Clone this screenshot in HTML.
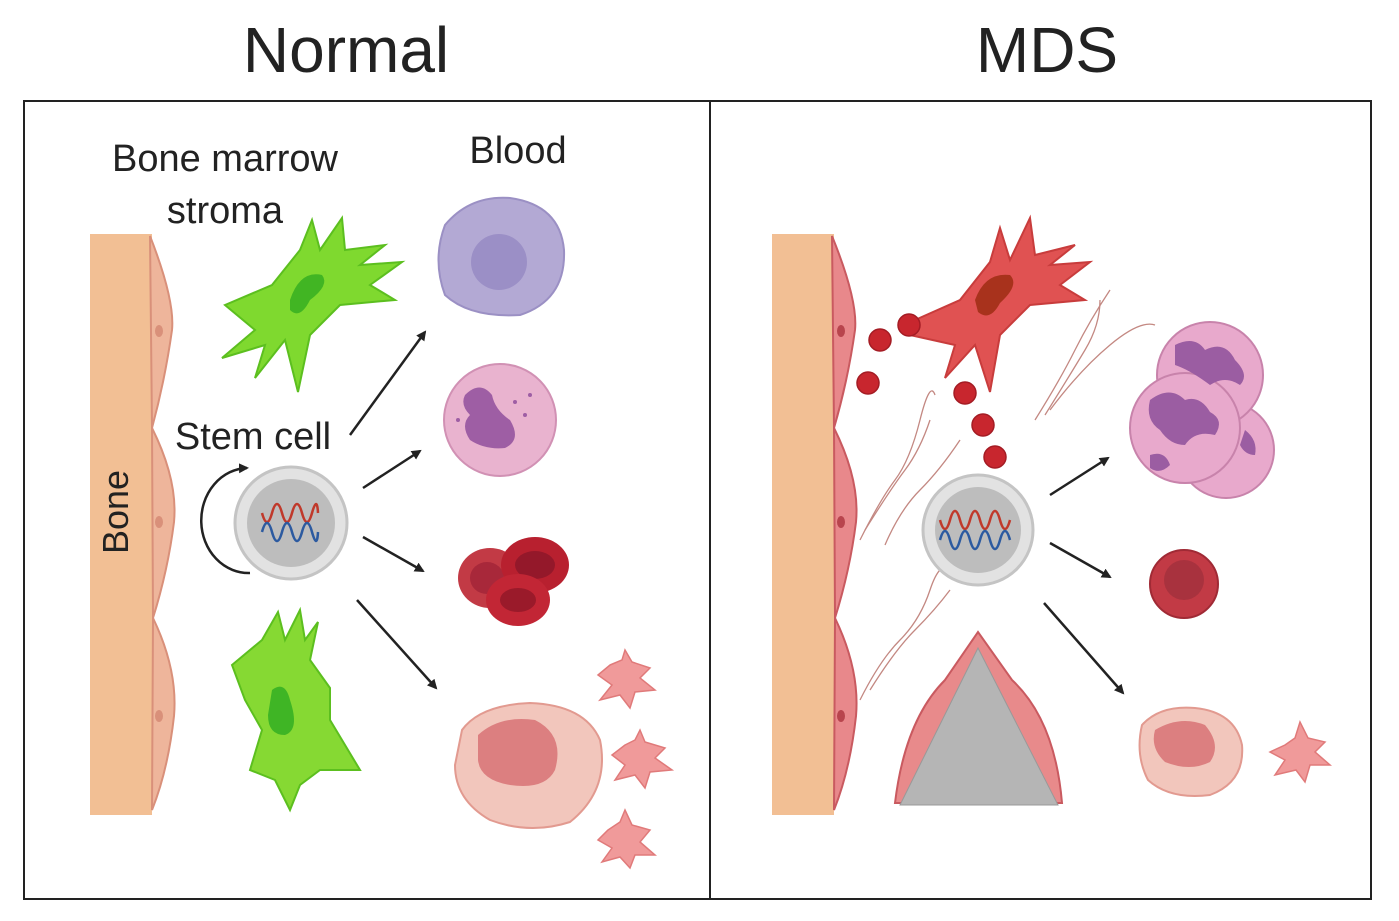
<!DOCTYPE html>
<html><head><meta charset="utf-8"><style>
html,body{margin:0;padding:0;background:#fff;}
svg{display:block;font-family:"Liberation Sans",sans-serif;}
</style></head><body>
<svg width="1399" height="921" viewBox="0 0 1399 921" xmlns="http://www.w3.org/2000/svg">
<defs>
<marker id="ah" markerWidth="10" markerHeight="10" refX="8" refY="5" orient="auto" markerUnits="userSpaceOnUse">
<path d="M0,0 L10,5 L0,10 z" fill="#222"/></marker>
</defs>
<rect width="1399" height="921" fill="#fff"/>
<text x="346" y="72" font-size="64" text-anchor="middle" fill="#222">Normal</text>
<text x="1047" y="72" font-size="64" text-anchor="middle" fill="#222">MDS</text>
<rect x="24" y="101" width="686" height="798" fill="none" stroke="#222" stroke-width="2"/>
<rect x="710" y="101" width="661" height="798" fill="none" stroke="#222" stroke-width="2"/>

<!-- LEFT -->
<rect x="90" y="234" width="62" height="581" fill="#f2bf94"/>
<g fill="#eeb59b" stroke="#d9907a" stroke-width="2">
<path d="M150,236 Q175,300 172,330 Q165,380 152,428 Z"/>
<path d="M152,428 Q178,480 174,522 Q168,570 153,618 Z"/>
<path d="M153,618 Q178,670 174,716 Q168,770 152,810 Z"/>
</g>
<g fill="#d9907a"><ellipse cx="159" cy="331" rx="4" ry="6"/><ellipse cx="159" cy="522" rx="4" ry="6"/><ellipse cx="159" cy="716" rx="4" ry="6"/></g>
<text x="128" y="512" font-size="36" text-anchor="middle" fill="#222" transform="rotate(-90 128 512)">Bone</text>
<text x="225" y="171" font-size="38" text-anchor="middle" fill="#222">Bone marrow</text>
<text x="225" y="223" font-size="38" text-anchor="middle" fill="#222">stroma</text>
<text x="518" y="163" font-size="38" text-anchor="middle" fill="#222">Blood</text>
<text x="253" y="449" font-size="38" text-anchor="middle" fill="#222">Stem cell</text>

<!-- green cells -->
<path d="M225,305 L272,285 L300,250 L312,220 L320,250 L342,218 L345,250 L385,245 L360,265 L402,262 L370,285 L395,300 L340,305 L310,335 L298,392 L285,340 L255,378 L265,345 L222,358 L255,330 Z" fill="#7fd92f" stroke="#5cbf1f" stroke-width="2"/>
<path d="M290,300 Q300,270 322,275 Q330,285 310,300 Q300,320 290,310 Z" fill="#41b523"/>
<path d="M232,665 L262,640 L278,612 L285,640 L300,610 L305,640 L318,622 L310,660 L330,688 L330,720 L360,770 L320,770 L300,785 L290,810 L275,780 L250,770 L262,730 L245,700 Z" fill="#86d933" stroke="#5cbf1f" stroke-width="2"/>
<path d="M272,690 Q285,680 290,700 Q300,730 285,735 Q268,735 268,715 Z" fill="#3fb525"/>

<!-- stem cell left -->
<circle cx="291" cy="523" r="56" fill="#e2e2e2" stroke="#c4c4c4" stroke-width="3"/>
<circle cx="291" cy="523" r="44" fill="#bdbdbd"/>
<path d="M262,513 q5,18 10,0 t10,0 t10,0 t10,0 t10,0 t6,0" fill="none" stroke="#c0392b" stroke-width="2.5"/>
<path d="M262,532 q5,-18 10,0 t10,0 t10,0 t10,0 t10,0 t6,0" fill="none" stroke="#2c5aa0" stroke-width="2.5"/>
<path d="M250,573 A45,50 0 0 1 247,468" fill="none" stroke="#222" stroke-width="2.5" marker-end="url(#ah)"/>

<!-- arrows -->
<g stroke="#222" stroke-width="2.5" marker-end="url(#ah)">
<line x1="350" y1="435" x2="425" y2="332"/>
<line x1="363" y1="488" x2="420" y2="451"/>
<line x1="363" y1="537" x2="423" y2="571"/>
<line x1="357" y1="600" x2="436" y2="688"/>
<line x1="1050" y1="495" x2="1108" y2="458"/>
<line x1="1050" y1="543" x2="1110" y2="577"/>
<line x1="1044" y1="603" x2="1123" y2="693"/>
</g>

<!-- blood cells -->
<path d="M445,225 Q470,195 510,198 Q560,205 564,250 Q566,300 520,315 Q470,318 445,295 Q432,260 445,225 Z" fill="#b3a9d4" stroke="#9b90c4" stroke-width="2"/>
<circle cx="499" cy="262" r="28" fill="#9b8fc6"/>
<circle cx="500" cy="420" r="56" fill="#e9b3cf" stroke="#d191b4" stroke-width="2"/>
<path d="M465,395 Q480,380 492,395 Q495,410 510,420 Q522,440 505,448 Q485,450 470,440 Q460,425 470,415 Q460,405 465,395 Z" fill="#9e5ea4"/>
<g fill="#9e5ea4"><circle cx="515" cy="402" r="2"/><circle cx="525" cy="415" r="2"/><circle cx="530" cy="395" r="2"/><circle cx="458" cy="420" r="2"/></g>
<ellipse cx="490" cy="578" rx="32" ry="30" fill="#c23a45"/>
<ellipse cx="487" cy="578" rx="17" ry="16" fill="#a8283a"/>
<ellipse cx="535" cy="565" rx="34" ry="28" fill="#b8202f"/>
<ellipse cx="535" cy="565" rx="20" ry="14" fill="#94182a"/>
<ellipse cx="518" cy="600" rx="32" ry="26" fill="#c22635"/>
<ellipse cx="518" cy="600" rx="18" ry="12" fill="#9a1a2a"/>
<!-- megakaryocyte -->
<path d="M462,730 Q480,705 530,703 Q585,705 600,740 Q610,790 570,822 Q530,835 490,820 Q455,800 455,765 Z" fill="#f2c6bc" stroke="#e29a90" stroke-width="2"/>
<path d="M478,735 Q500,715 535,720 Q565,735 555,770 Q545,790 510,785 Q480,780 478,760 Z" fill="#dc7f80"/>
<g fill="#f09a9a" stroke="#e07a7a" stroke-width="1.5">
<path d="M610,665 L622,660 L625,650 L632,662 L650,668 L640,678 L655,690 L635,692 L630,708 L620,695 L600,700 L612,685 L598,675 Z"/>
<path d="M625,745 L635,740 L640,730 L645,742 L665,748 L655,758 L672,770 L650,772 L645,788 L635,775 L615,780 L625,765 L612,755 Z"/>
<path d="M608,830 L620,822 L625,810 L632,825 L650,830 L640,842 L655,855 L635,855 L630,868 L620,857 L602,862 L612,848 L598,840 Z"/>
</g>

<!-- RIGHT -->
<rect x="772" y="234" width="62" height="581" fill="#f2bf94"/>
<g fill="#e8888b" stroke="#c95a60" stroke-width="2">
<path d="M832,236 Q858,300 855,330 Q848,380 834,428 Z"/>
<path d="M834,428 Q860,480 856,522 Q850,570 835,618 Z"/>
<path d="M835,618 Q860,670 856,716 Q850,770 834,810 Z"/>
</g>
<g fill="#b8454d"><ellipse cx="841" cy="331" rx="4" ry="6"/><ellipse cx="841" cy="522" rx="4" ry="6"/><ellipse cx="841" cy="716" rx="4" ry="6"/></g>
<!-- red stroma -->
<path d="M915,320 L960,300 L990,262 L1000,228 L1010,260 L1030,218 L1035,255 L1075,245 L1050,265 L1090,262 L1060,285 L1085,300 L1030,305 L1000,335 L990,392 L975,345 L945,378 L955,345 L910,335 Z" fill="#e05252" stroke="#c83c3c" stroke-width="2"/>
<path d="M975,300 Q985,272 1010,275 Q1020,285 1000,303 Q990,322 978,312 Z" fill="#a8321c"/>
<g fill="#c8262e" stroke="#a41c24" stroke-width="1.5">
<circle cx="880" cy="340" r="11"/><circle cx="909" cy="325" r="11"/><circle cx="868" cy="383" r="11"/>
<circle cx="965" cy="393" r="11"/><circle cx="983" cy="425" r="11"/><circle cx="995" cy="457" r="11"/>
</g>
<!-- fibers -->
<g fill="none" stroke="#b56b63" stroke-width="1.3" opacity="0.8">
<path d="M860,540 Q880,500 895,480 T920,420 T935,395"/>
<path d="M865,530 Q890,490 905,470 T930,420"/>
<path d="M885,545 Q900,510 920,490 T960,440"/>
<path d="M860,700 Q880,660 900,640 T930,590 T950,570"/>
<path d="M870,690 Q895,650 915,630 T950,590"/>
<path d="M1035,420 Q1060,380 1075,350 T1110,290"/>
<path d="M1045,415 Q1070,375 1085,350 T1100,300"/>
<path d="M1050,410 Q1080,370 1110,345 T1155,325"/>
</g>
<!-- stem cell right -->
<circle cx="978" cy="530" r="55" fill="#e2e2e2" stroke="#c4c4c4" stroke-width="3"/>
<circle cx="978" cy="530" r="43" fill="#bdbdbd"/>
<path d="M940,520 q5,18 10,0 t10,0 t10,0 t10,0 t10,0 t10,0 t10,0" fill="none" stroke="#c0392b" stroke-width="2.5"/>
<path d="M940,540 q5,-18 10,0 t10,0 t10,0 t10,0 t10,0 t10,0 t10,0" fill="none" stroke="#2c5aa0" stroke-width="2.5"/>
<!-- vessel -->
<path d="M895,803 Q905,720 945,680 L978,632 L1012,680 Q1055,720 1062,803 Z" fill="#e88a8b" stroke="#c95a60" stroke-width="2"/>
<path d="M978,648 L900,805 L1058,805 Z" fill="#b5b5b5" stroke="#999" stroke-width="1"/>
<!-- abnormal cells -->
<circle cx="1226" cy="450" r="48" fill="#e8a9cc" stroke="#c883ab" stroke-width="2"/>
<circle cx="1210" cy="375" r="53" fill="#e8a9cc" stroke="#c883ab" stroke-width="2"/>
<circle cx="1185" cy="428" r="55" fill="#e8a9cc" stroke="#c883ab" stroke-width="2"/>
<g fill="#9b5da2">
<path d="M1175,345 Q1195,335 1205,350 Q1225,340 1235,360 Q1250,375 1240,385 Q1225,375 1210,385 Q1190,370 1175,365 Z"/>
<path d="M1150,400 Q1170,385 1185,400 Q1200,395 1210,412 Q1225,420 1215,435 Q1195,430 1185,445 Q1170,445 1160,430 Q1145,420 1150,400 Z"/>
<path d="M1245,430 Q1258,440 1255,455 Q1245,455 1240,445 Z"/>
<path d="M1150,455 Q1165,450 1170,465 Q1160,475 1150,468 Z"/>
</g>
<circle cx="1184" cy="584" r="34" fill="#c23a45" stroke="#a02a35" stroke-width="2"/>
<circle cx="1184" cy="580" r="20" fill="#a8323e"/>
<path d="M1142,725 Q1160,705 1195,708 Q1235,712 1242,745 Q1245,782 1210,795 Q1170,800 1148,780 Q1135,755 1142,725 Z" fill="#f2c6bc" stroke="#e29a90" stroke-width="2"/>
<path d="M1155,730 Q1180,715 1205,725 Q1222,745 1210,762 Q1190,772 1165,762 Q1150,748 1155,730 Z" fill="#dc7f80"/>
<path d="M1285,745 L1295,738 L1300,722 L1308,738 L1325,742 L1315,752 L1330,765 L1310,765 L1305,782 L1296,770 L1275,775 L1285,760 L1270,752 Z" fill="#f09a9a" stroke="#e07a7a" stroke-width="1.5"/>
</svg>
</body></html>
